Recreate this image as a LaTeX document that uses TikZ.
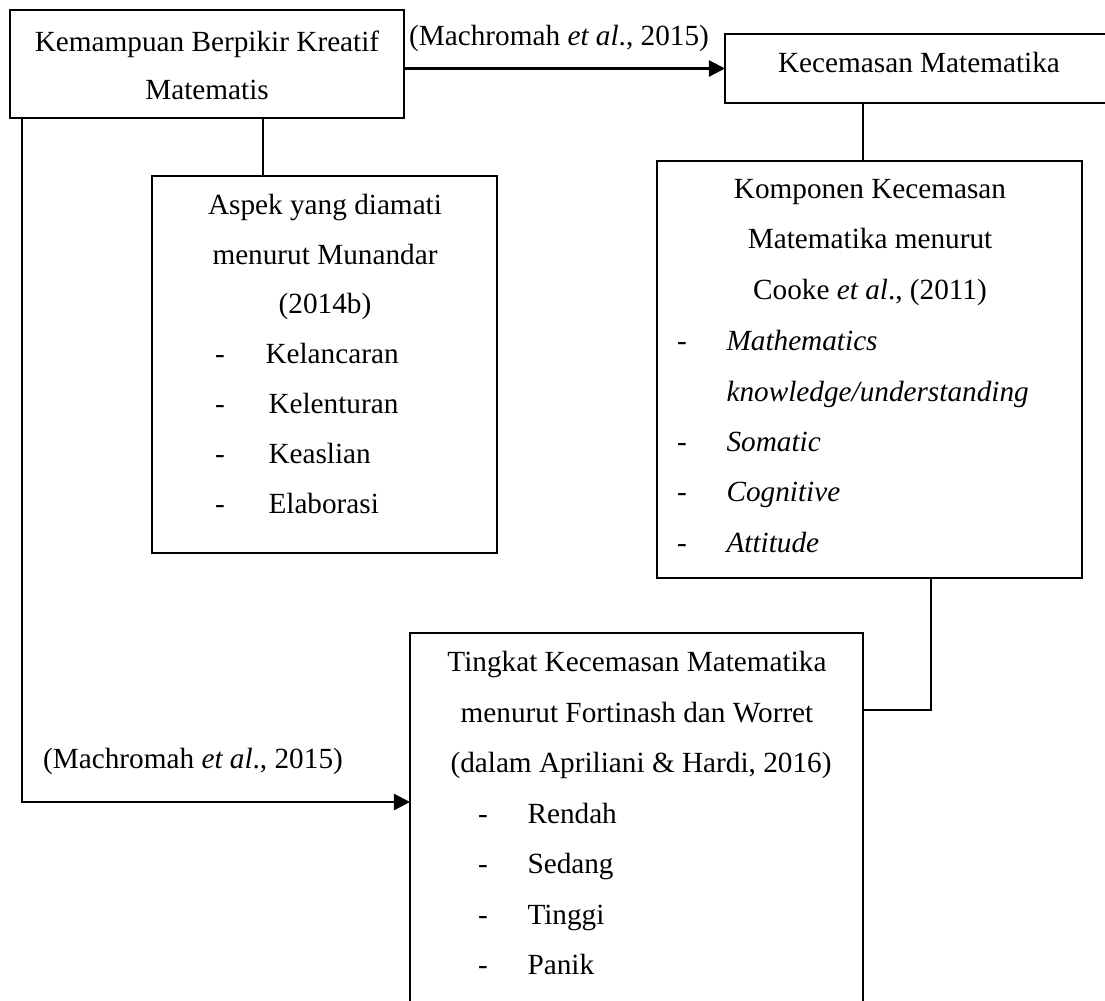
\documentclass[tikz,border=0pt]{standalone}
\usepackage{fontspec}
\setmainfont{Liberation Serif}
\usetikzlibrary{arrows.meta,fit}
\newcommand\dfont{\fontsize{11.7pt}{14pt}\selectfont}
\begin{document}
\begin{tikzpicture}[x=0.4pt,y=-0.4pt,
  box/.style={draw,line width=0.9pt,inner sep=0pt,outer sep=0pt},
  ln/.style={line width=0.9pt},
  arr/.style={line width=0.9pt,-{Triangle[length=6.5pt,width=6.5pt]}},
  ct/.style={inner sep=0pt,anchor=base,font=\dfont},
  lt/.style={inner sep=0pt,anchor=base west,font=\dfont}]
\useasboundingbox (0,0) rectangle (1105,1000);

% boxes
\node[box,fit={(10,10) (404,118)}] (b1) {};
\node[box,fit={(725,34) (1112,103)}] (b2) {};
\node[box,fit={(152,176) (497,553)}] (asp) {};
\node[box,fit={(657,161) (1082,578)}] (komp) {};
\node[box,fit={(410,633) (863,1012)}] (tk) {};

% helper coordinates
\coordinate (cx1) at (263,0);
\coordinate (cx2) at (22,0);
\coordinate (cy2) at (0,802);
\coordinate (cx3) at (863,0);
\coordinate (cx4) at (931,0);
\coordinate (cy4) at (0,710);

% connectors
\draw[arr] (b1.east |- b2.west) -- (b2.west);
\draw[ln] (b1.south -| cx1) -- (asp.north -| cx1);
\draw[arr] (b1.south -| cx2) |- (tk.west |- cy2);
\draw[ln] (b2.south -| cx3) -- (komp.north -| cx3);
\draw[ln] (komp.south -| cx4) |- (tk.east |- cy4);

% labels
\node[ct] (l1) at (559,45) {(Machromah \textit{et al}., 2015)};
\node[ct] (l2) at (193,768) {(Machromah \textit{et al}., 2015)};

% box 1 text
\node[ct] (t1a) at (207,51) {Kemampuan Berpikir Kreatif};
\node[ct] (t1b) at (207,99) {Matematis};

% box 2 text
\node[ct] (t2a) at (919,72) {Kecemasan Matematika};

% aspek
\node[ct] (a1) at (325,214) {Aspek yang diamati};
\node[ct] (a2) at (325,264) {menurut Munandar};
\node[ct] (a3) at (325,313) {(2014b)};
\node[ct] (ad1) at (220,363) {-};
\node[lt] (a4) at (265,363) {Kelancaran};
\node[ct] (ad2) at (220,413) {-};
\node[lt] (a5) at (268,413) {Kelenturan};
\node[ct] (ad3) at (220,463) {-};
\node[lt] (a6) at (268,463) {Keaslian};
\node[ct] (ad4) at (220,513) {-};
\node[lt] (a7) at (268,513) {Elaborasi};

% komponen
\node[ct] (k1) at (870,198) {Komponen Kecemasan};
\node[ct] (k2) at (870,248) {Matematika menurut};
\node[ct] (k3) at (870,299) {Cooke \textit{et al}., (2011)};
\node[ct] (kd1) at (682,350) {-};
\node[lt] (k4) at (726,350) {\textit{Mathematics}};
\node[lt] (k5) at (726,401) {\textit{knowledge/understanding}};
\node[ct] (kd2) at (682,451) {-};
\node[lt] (k6) at (726,451) {\textit{Somatic}};
\node[ct] (kd3) at (682,501) {-};
\node[lt] (k7) at (726,501) {\textit{Cognitive}};
\node[ct] (kd4) at (682,552) {-};
\node[lt] (k8) at (726,552) {\textit{Attitude}};

% tingkat
\node[ct] (g1) at (637,671) {Tingkat Kecemasan Matematika};
\node[ct] (g2) at (637,722) {menurut Fortinash dan Worret};
\node[ct] (g3) at (641,772) {(dalam Apriliani \& Hardi, 2016)};
\node[ct] (gd1) at (483,823) {-};
\node[lt] (g4) at (527,823) {Rendah};
\node[ct] (gd2) at (483,873) {-};
\node[lt] (g5) at (527,873) {Sedang};
\node[ct] (gd3) at (483,924) {-};
\node[lt] (g6) at (527,924) {Tinggi};
\node[ct] (gd4) at (483,974) {-};
\node[lt] (g7) at (527,974) {Panik};
\end{tikzpicture}
\end{document}
